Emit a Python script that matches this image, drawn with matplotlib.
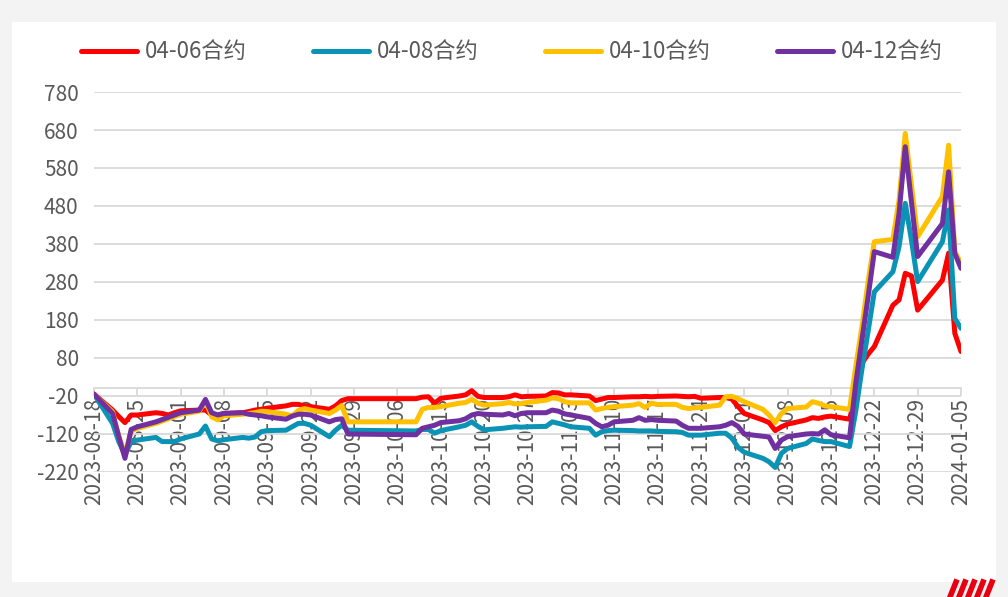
import numpy as np
import pandas as pd
import matplotlib
matplotlib.use('Agg')
import matplotlib.pyplot as plt
from matplotlib.patches import Rectangle
from matplotlib.lines import Line2D

plt.rcParams['font.family'] = ['Noto Sans CJK SC', 'DejaVu Sans']
plt.rcParams['axes.unicode_minus'] = False

# trading days (Chinese futures calendar)
holidays = ['2023-09-29', '2023-10-02', '2023-10-03', '2023-10-04',
            '2023-10-05', '2023-10-06', '2024-01-01']
dates = pd.bdate_range('2023-08-18', '2024-01-05')
dates = dates[~dates.isin(pd.to_datetime(holidays))]

names = ['04-06合约', '04-08合约', '04-10合约', '04-12合约']
colors = ['#FF0000', '#0B93B6', '#FFC000', '#7030A0']

s0406 = [-15, -57, -74, -90, -70, -70,
         -64, -66, -70, -64, -59,
         -57, -57, -70, -70, -66,
         -64, -61, -57, -55, -52,
         -46, -42, -42, -46, -48,
         -55, -46, -32, -27,
         -27, -23, -22, -39, -26,
         -20, -17, -6, -21, -24,
         -24, -22, -17, -22, -21,
         -20, -11, -12, -17, -17,
         -20, -32, -28, -24, -24,
         -22, -22, -21, -22, -21,
         -20, -21, -22, -21, -26,
         -24, -24, -28, -48, -66,
         -83, -90, -111, -101, -94,
         -83, -77, -79, -75, -73,
         -81, -17, 66, 90, 110,
         219, 233, 303, 296, 206,
         285, 356, 145, 97]

s0408 = [-15, -92, -140, -175, -140, -136,
         -129, -140, -140, -140, -133,
         -120, -99, -133, -138, -135,
         -129, -131, -128, -114, -111,
         -110, -101, -92, -92, -97,
         -127, -110, -97, -110,
         -112, -108, -108, -118, -111,
         -101, -97, -88, -100, -109,
         -105, -103, -101, -102, -101,
         -100, -88, -92, -96, -101,
         -105, -123, -114, -111, -110,
         -111, -112, -112, -112, -113,
         -114, -116, -123, -123, -123,
         -118, -118, -131, -155, -168,
         -184, -193, -208, -171, -158,
         -145, -133, -137, -140, -140,
         -153, -60, 50, 150, 254,
         307, 373, 487, 390, 281,
         386, 470, 184, 158]

s0410 = [-15, -62, -125, -175, -112, -105,
         -92, -86, -80, -74, -68,
         -60, -32, -75, -83, -72,
         -68, -66, -64, -60, -61,
         -68, -73, -58, -53, -57,
         -66, -57, -45, -88,
         -88, -55, -50, -50, -48,
         -39, -37, -29, -39, -44,
         -40, -37, -41, -40, -37,
         -31, -25, -27, -35, -38,
         -38, -57, -53, -50, -48,
         -44, -40, -50, -39, -42,
         -42, -50, -53, -51, -50,
         -44, -22, -21, -27, -35,
         -55, -70, -90, -66, -53,
         -49, -35, -39, -46, -48,
         -55, 57, 162, 281, 386,
         392, 496, 671, 535, 399,
         505, 640, 360, 329]

s0412 = [-15, -66, -127, -184, -108, -101,
         -88, -82, -76, -70, -64,
         -57, -29, -64, -70, -66,
         -64, -68, -70, -72, -75,
         -81, -73, -68, -68, -70,
         -88, -82, -80, -120,
         -122, -105, -101, -97, -90,
         -85, -80, -70, -66, -68,
         -70, -66, -72, -66, -64,
         -64, -57, -60, -67, -70,
         -79, -92, -101, -97, -88,
         -84, -77, -84, -82, -84,
         -86, -97, -105, -105, -105,
         -101, -97, -90, -100, -120,
         -126, -128, -158, -136, -127,
         -120, -119, -120, -109, -122,
         -130, 13, 127, 241, 360,
         345, 461, 636, 490, 347,
         434, 570, 355, 316]

series = [s0406, s0408, s0410, s0412]

tick_dates = pd.date_range('2023-08-18', '2024-01-05', freq='7D')
yticks = np.arange(-220, 781, 100)

fig = plt.figure(figsize=(10.08, 5.97), dpi=100, facecolor='#f3f3f3')
fig.patches.append(Rectangle((12/1008, 1-582/597), 984/1008, 560/597,
                             transform=fig.transFigure, facecolor='white',
                             edgecolor='none', zorder=-1))

ax = fig.add_axes([94/1008, 1-472/597, 867/1008, 380/597])
ax.set_facecolor('none')

for name, vals, c in zip(names, series, colors):
    ax.plot(dates, vals, color=c, lw=3.6, label=name,
            solid_joinstyle='round', solid_capstyle='round')

ax.set_xlim(dates[0], dates[-1])
ax.set_ylim(-220, 780)
ax.set_yticks(yticks)
ax.yaxis.grid(True, color='#d9d9d9', lw=1.3)
ax.set_axisbelow(True)

for s in ['left', 'right', 'top']:
    ax.spines[s].set_visible(False)
ax.spines['bottom'].set_position(('data', 0))
ax.spines['bottom'].set_color('#d9d9d9')
ax.spines['bottom'].set_linewidth(1.3)
ax.spines['bottom'].set_zorder(0.5)

ax.set_xticks(tick_dates)
ax.set_xticklabels([d.strftime('%Y-%m-%d') for d in tick_dates], rotation=90)
ax.tick_params(axis='x', length=6, width=1.3, color='#d9d9d9', pad=1,
               labelsize=15, labelcolor='#595959')
ax.tick_params(axis='y', length=0, pad=11, labelsize=15, labelcolor='#595959')

fig.legend(loc='center', bbox_to_anchor=(0.508, 1-52/597), ncol=4,
           frameon=False, fontsize=16, handlelength=2.5, handletextpad=0.36,
           columnspacing=3.0, labelcolor='#595959')

# corner logo (partly visible)
for k in range(5):
    fig.add_artist(Line2D([(950+k*9)/1008, (956+k*9)/1008], [0, 15/597],
                          color='#e60012', lw=4, transform=fig.transFigure))

fig.savefig('out.png', dpi=100, facecolor=fig.get_facecolor())
